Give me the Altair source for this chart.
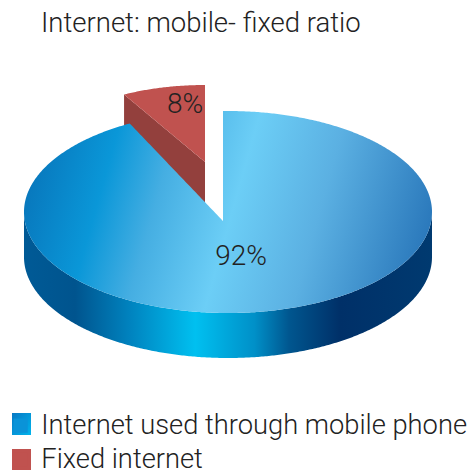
import numpy as np
import pandas as pd
import altair as alt

# Chart content
title_text = "Internet: mobile- fixed ratio"
categories = ["Internet used through mobile phone", "Fixed internet"]
shares = [92, 8]
flat_colors = ["#0a93d8", "#c0524f"]

W, H = 474, 471
FONT = "Roboto"

# Pie projection: one unit is the pie radius, tilted by the pixel ratio of the two scales
RX, RY, CX, CY = 204.0, 101.0, 228.0, 212.0
DEPTH = 45.0 / RY
x_scale = alt.Scale(domain=[-CX / RX, (W - CX) / RX], range=[0, W], nice=False, zero=False)
y_scale = alt.Scale(domain=[(CY - H) / RY, CY / RY], range=[H, 0], nice=False, zero=False)
X = lambda f="x": alt.X(f"{f}:Q", scale=x_scale, axis=None)
Y = lambda f="y": alt.Y(f"{f}:Q", scale=y_scale, axis=None)

gap = 2 * np.pi * shares[1] / 100

# Large slice: rim of the disc and the notch left by the pulled-out slice
apex_x, apex_y = -5.0 / RX, -9.0 / RY
corner_x, corner_y = -np.sin(gap), np.cos(gap)
xs = np.unique(np.concatenate([
    -np.cos(np.linspace(0, np.pi, 361)),
    [corner_x, apex_x, apex_x + 1e-4],
]))
upper = np.sqrt(np.clip(1 - xs ** 2, 0, None))
lower = -upper
in_notch = (xs > corner_x) & (xs <= apex_x)
upper_cut = upper.copy()
upper_cut[in_notch] = corner_y + (apex_y - corner_y) * (xs[in_notch] - corner_x) / (apex_x - corner_x)
disc = pd.DataFrame({"x": xs, "y": upper_cut, "y2": lower, "low": lower, "low2": lower - DEPTH})

# Small slice: a smaller sector shifted up and to the left
S_RX, S_RY = 168.0 / RX, 77.0 / RY
S_AX, S_AY = -23.0 / RX, (CY - 162.0) / RY
phi = np.linspace(gap, 0, 60)
sx = S_AX - S_RX * np.sin(phi)
arc = S_AY + S_RY * np.cos(phi)
edge = (S_AY + S_RY * np.cos(gap)) + (-S_RY * np.cos(gap)) * (sx - sx[0]) / (sx[-1] - sx[0])
wedge = pd.DataFrame({"x": sx, "y": arc, "y2": edge, "low": edge, "low2": edge - DEPTH})

top_fill = alt.Gradient(
    gradient="linear", x1=0, y1=0.43, x2=1, y2=0.57,
    stops=[
        alt.GradientStop(offset=0.0, color="#0878bd"),
        alt.GradientStop(offset=0.18, color="#0a97d8"),
        alt.GradientStop(offset=0.32, color="#45aee2"),
        alt.GradientStop(offset=0.51, color="#6ccef6"),
        alt.GradientStop(offset=0.72, color="#5bb0e2"),
        alt.GradientStop(offset=1.0, color="#2a78bb"),
    ],
)
side_fill = alt.Gradient(
    gradient="linear", x1=0, y1=0, x2=1, y2=0,
    stops=[
        alt.GradientStop(offset=0.0, color="#005a96"),
        alt.GradientStop(offset=0.125, color="#00548e"),
        alt.GradientStop(offset=0.26, color="#0083bf"),
        alt.GradientStop(offset=0.42, color="#00c0f0"),
        alt.GradientStop(offset=0.565, color="#0090c8"),
        alt.GradientStop(offset=0.65, color="#00568f"),
        alt.GradientStop(offset=0.775, color="#003068"),
        alt.GradientStop(offset=1.0, color="#003a70"),
    ],
)
swatch_fill = alt.Gradient(
    gradient="linear", x1=0, y1=0, x2=1, y2=1,
    stops=[
        alt.GradientStop(offset=0.0, color="#0878c4"),
        alt.GradientStop(offset=1.0, color="#00b4ec"),
    ],
)

wedge_side = alt.Chart(wedge).mark_area(color="#93403d").encode(X(), Y("low"), y2="low2:Q")
wedge_top = alt.Chart(wedge).mark_area(color="#c0524f").encode(X(), Y("y"), y2="y2:Q")
disc_side = alt.Chart(disc).mark_area(color=side_fill).encode(X(), Y("low"), y2="low2:Q")
disc_top = alt.Chart(disc).mark_area(color=top_fill).encode(X(), Y("y"), y2="y2:Q")

# Percentage labels
labels = pd.DataFrame({
    "x": [(241.0 - CX) / RX, (185.0 - CX) / RX],
    "y": [(CY - 257.0) / RY, (CY - 105.0) / RY],
    "text": [f"{s}%" for s in shares],
})
label_layer = alt.Chart(labels).mark_text(
    font=FONT, fontWeight=300, fontSize=28, color="#222222"
).encode(X(), Y(), text="text:N")

# Legend carrier: zero-size points, the legend draws its own swatches
legend_data = pd.DataFrame({"category": categories, "x": [0, 0], "y": [0, 0]})
legend_layer = alt.Chart(legend_data).mark_square(size=0).encode(
    X(), Y(),
    color=alt.Color(
        "category:N",
        scale=alt.Scale(domain=categories, range=flat_colors),
        legend=alt.Legend(
            title=None, orient="none", legendX=7, legendY=412,
            symbolType="square", symbolSize=200, symbolStrokeWidth=0, symbolOpacity=1,
            labelFont=FONT, labelFontWeight=300, labelFontSize=27.3, labelColor="#222222",
            labelLimit=470, rowPadding=6, labelOffset=7,
        ),
    ),
)

# Legend swatches, a little taller than square, with the shaded blue
swatch_blue = alt.Chart(legend_data).mark_rect(color=swatch_fill).encode(
    x=alt.value(12), x2=alt.value(31), y=alt.value(413), y2=alt.value(435)
)
swatch_red = alt.Chart(legend_data).mark_rect(color=flat_colors[1]).encode(
    x=alt.value(12), x2=alt.value(31), y=alt.value(449), y2=alt.value(470)
)

chart = alt.layer(
    wedge_side, wedge_top, disc_side, disc_top, label_layer, legend_layer, swatch_blue, swatch_red
).properties(
    width=W, height=H, padding=0, autosize=alt.AutoSizeParams(type="none"),
    title=alt.TitleParams(
        title_text, anchor="start", dx=41, dy=41, font=FONT, fontWeight=300,
        fontSize=27.5, color="#222222",
    ),
).configure_view(stroke=None)

chart.save("out.html", embed_options={"renderer": "svg", "actions": False})
